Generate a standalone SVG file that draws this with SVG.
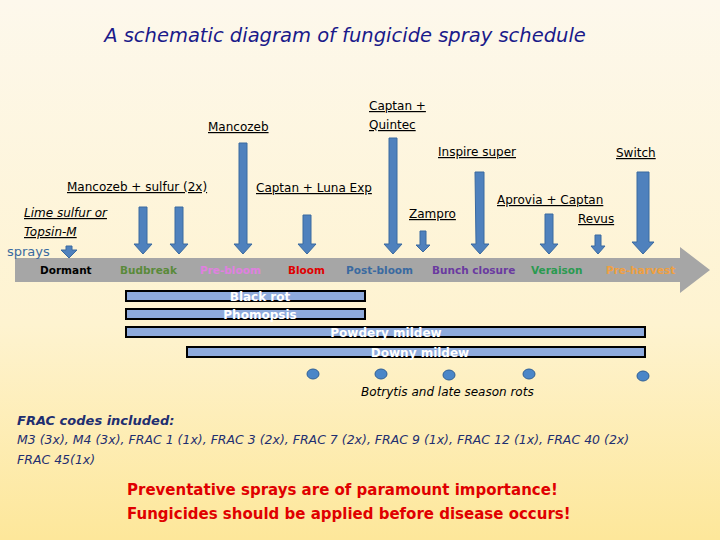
<svg xmlns="http://www.w3.org/2000/svg" width="720" height="540" viewBox="0 0 720 540">
<defs>
<linearGradient id="bg" x1="0" y1="0" x2="0" y2="1"><stop offset="0" stop-color="#fdf8ec"/><stop offset="0.6" stop-color="#fef3d0"/><stop offset="1" stop-color="#fde79a"/></linearGradient>
</defs>
<style>
text{font-family:"DejaVu Sans",sans-serif;}
.lab{font-size:12px;text-decoration:underline;fill:#000}
.st{font-size:10.5px;font-weight:bold}
.bar{fill:#8eaadc;stroke:#000;stroke-width:2}
.bt{font-size:12px;font-weight:bold;fill:#fff;text-anchor:middle}
.arr{fill:#4f81bd;stroke:#3a6aa0;stroke-width:1}
.dot{fill:#4a86c8;stroke:#2f5f95;stroke-width:1}
</style>
<rect width="720" height="540" fill="url(#bg)"/>
<text x="345" y="42" text-anchor="middle" font-size="19.5" font-style="italic" fill="#1a1a8a">A schematic diagram of fungicide spray schedule</text>

<g id="timeline">
<polygon points="15,258 680,258 680,247 710,270 680,293 680,282 15,282" fill="#a6a6a6"/>
<text class="st" x="40" y="274" fill="#000">Dormant</text>
<text class="st" x="120" y="274" fill="#5a8a3a">Budbreak</text>
<text class="st" x="200" y="274" fill="#e080e0">Pre-bloom</text>
<text class="st" x="288" y="274" fill="#e00000">Bloom</text>
<text class="st" x="346" y="274" fill="#3a6aa0">Post-bloom</text>
<text class="st" x="432" y="274" fill="#6a3aa0">Bunch closure</text>
<text class="st" x="531" y="274" fill="#2a9a50">Veraison</text>
<text class="st" x="606" y="274" fill="#f0a040">Pre-harvest</text>
</g>

<g id="connectors">
<path class="arr" d="M66,246 h6 v4 h5 l-8,8 l-8,-8 h5z"/>
<path class="arr" d="M139,207 h8 v37 h5 l-9,10 l-9,-10 h5z"/>
<path class="arr" d="M175,207 h8 v37 h5 l-9,10 l-9,-10 h5z"/>
<path class="arr" d="M239,143 h8 v101 h5 l-9,10 l-9,-10 h5z"/>
<path class="arr" d="M303,215 h8 v29 h5 l-9,10 l-9,-10 h5z"/>
<path class="arr" d="M389,138 h8 v106 h5 l-9,10 l-9,-10 h5z"/>
<path class="arr" d="M420,231 h6 v14 h4 l-7,7 l-7,-7 h4z"/>
<path class="arr" d="M475,172 h9 v72 h5 l-9,10 l-9,-10 h5z"/>
<path class="arr" d="M545,214 h8 v30 h5 l-9,10 l-9,-10 h5z"/>
<path class="arr" d="M595,235 h6 v11 h4 l-7,8 l-7,-8 h4z"/>
<path class="arr" d="M637,172 h12 v70 h5 l-11,12 l-11,-12 h5z"/>
</g>

<g id="labels">
<text class="lab" x="208" y="131">Mancozeb</text>
<text class="lab" x="369" y="110">Captan +</text>
<text class="lab" x="369" y="129">Quintec</text>
<text class="lab" x="438" y="156">Inspire super</text>
<text class="lab" x="616" y="157">Switch</text>
<text class="lab" x="67" y="191">Mancozeb + sulfur (2x)</text>
<text class="lab" x="256" y="192">Captan + Luna Exp</text>
<text class="lab" x="497" y="204">Aprovia + Captan</text>
<text class="lab" x="409" y="218">Zampro</text>
<text class="lab" x="578" y="223">Revus</text>
<text class="lab" x="24" y="217" font-style="italic">Lime sulfur or</text>
<text class="lab" x="24" y="236" font-style="italic">Topsin-M</text>
<text x="7" y="256" font-size="13" fill="#3a6aa0">sprays</text>
</g>

<g id="diseases">
<rect class="bar" x="126" y="291" width="239" height="10"/>
<text class="bt" x="260" y="301">Black rot</text>
<rect class="bar" x="126" y="309" width="239" height="10"/>
<text class="bt" x="260" y="319">Phomopsis</text>
<rect class="bar" x="126" y="327" width="519" height="10"/>
<text class="bt" x="386" y="337">Powdery mildew</text>
<rect class="bar" x="187" y="347" width="458" height="10"/>
<text class="bt" x="420" y="357">Downy mildew</text>
<ellipse class="dot" cx="313" cy="374" rx="6" ry="5"/>
<ellipse class="dot" cx="381" cy="374" rx="6" ry="5"/>
<ellipse class="dot" cx="449" cy="375" rx="6" ry="5"/>
<ellipse class="dot" cx="529" cy="374" rx="6" ry="5"/>
<ellipse class="dot" cx="643" cy="376" rx="6" ry="5"/>
<text x="361" y="396" font-size="12" font-style="italic" fill="#000">Botrytis and late season rots</text>
</g>

<g id="notes">
<text x="17" y="425" font-size="13" font-style="italic" font-weight="bold" fill="#1f2f70">FRAC codes included:</text>
<text x="17" y="444" font-size="12.5" font-style="italic" fill="#1f2f70">M3 (3x), M4 (3x), FRAC 1 (1x), FRAC 3 (2x), FRAC 7 (2x), FRAC 9 (1x), FRAC 12 (1x), FRAC 40 (2x)</text>
<text x="17" y="464" font-size="12.5" font-style="italic" fill="#1f2f70">FRAC 45(1x)</text>
<text x="127" y="495" font-size="15" font-weight="bold" fill="#e00000">Preventative sprays are of paramount importance!</text>
<text x="127" y="519" font-size="15" font-weight="bold" fill="#e00000">Fungicides should be applied before disease occurs!</text>
</g>
</svg>
